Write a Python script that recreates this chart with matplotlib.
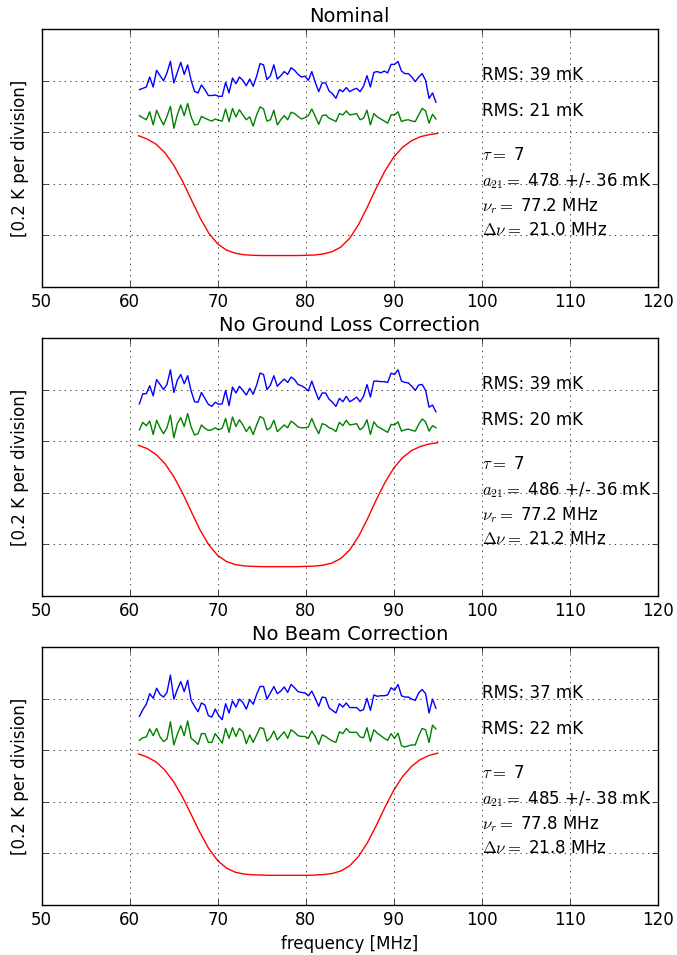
import numpy as np
import matplotlib
matplotlib.use("Agg")
import matplotlib.pyplot as plt

plt.style.use("classic")
plt.rcParams["figure.facecolor"] = "white"
plt.rcParams["savefig.facecolor"] = "white"

# ---- data ----
titles = ["Nominal", "No Ground Loss Correction", "No Beam Correction"]
rms_blue = [39, 39, 37]
rms_green = [21, 20, 22]
tau = [7, 7, 7]
amp = [478, 486, 485]
amp_err = [36, 36, 38]
nu_r = [77.2, 77.2, 77.8]
dnu = [21.0, 21.2, 21.8]

f_start, f_stop = 61.1, 94.8   # residual channel range [MHz]

blue_1 = [0.166, 0.171, 0.176, 0.215, 0.176, 0.241, 0.220, 0.200, 0.231, 0.276,
          0.192, 0.233, 0.272, 0.225, 0.262, 0.202, 0.159, 0.153, 0.184, 0.166,
          0.143, 0.143, 0.145, 0.140, 0.140, 0.194, 0.153, 0.211, 0.189, 0.215,
          0.202, 0.181, 0.207, 0.179, 0.218, 0.267, 0.262, 0.205, 0.220, 0.262,
          0.207, 0.220, 0.236, 0.225, 0.251, 0.241, 0.225, 0.215, 0.218, 0.202,
          0.236, 0.194, 0.158, 0.192, 0.192, 0.161, 0.150, 0.132, 0.166, 0.158,
          0.174, 0.158, 0.166, 0.171, 0.158, 0.179, 0.220, 0.176, 0.233, 0.236,
          0.231, 0.238, 0.231, 0.264, 0.264, 0.275, 0.238, 0.228, 0.228, 0.215,
          0.197, 0.215, 0.228, 0.202, 0.132, 0.153, 0.117]
green_1 = [0.065, 0.057, 0.049, 0.080, 0.029, 0.086, 0.055, 0.029, 0.062, 0.101,
           0.016, 0.068, 0.106, 0.065, 0.112, 0.060, 0.029, 0.031, 0.062, 0.055,
           0.049, 0.044, 0.052, 0.047, 0.044, 0.091, 0.042, 0.093, 0.060, 0.088,
           0.068, 0.049, 0.060, 0.024, 0.068, 0.099, 0.091, 0.044, 0.049, 0.086,
           0.029, 0.049, 0.065, 0.049, 0.078, 0.073, 0.062, 0.052, 0.057, 0.065,
           0.091, 0.062, 0.031, 0.065, 0.068, 0.055, 0.049, 0.042, 0.073, 0.068,
           0.083, 0.068, 0.070, 0.073, 0.049, 0.055, 0.086, 0.029, 0.073, 0.060,
           0.052, 0.044, 0.036, 0.068, 0.068, 0.080, 0.042, 0.047, 0.049, 0.044,
           0.042, 0.068, 0.093, 0.083, 0.036, 0.070, 0.052]

blue_2 = [0.146, 0.185, 0.185, 0.216, 0.177, 0.240, 0.221, 0.201, 0.221, 0.278,
          0.190, 0.237, 0.260, 0.224, 0.255, 0.196, 0.154, 0.152, 0.190, 0.167,
          0.144, 0.136, 0.152, 0.144, 0.146, 0.198, 0.139, 0.211, 0.188, 0.214,
          0.198, 0.180, 0.206, 0.183, 0.219, 0.265, 0.260, 0.201, 0.219, 0.255,
          0.214, 0.229, 0.242, 0.229, 0.250, 0.240, 0.221, 0.216, 0.208, 0.196,
          0.234, 0.196, 0.162, 0.188, 0.188, 0.164, 0.152, 0.136, 0.167, 0.154,
          0.175, 0.154, 0.162, 0.172, 0.154, 0.175, 0.221, 0.172, 0.234, 0.234,
          0.232, 0.232, 0.229, 0.265, 0.260, 0.278, 0.234, 0.229, 0.227, 0.214,
          0.198, 0.219, 0.221, 0.198, 0.133, 0.141, 0.115]
green_2 = [0.045, 0.074, 0.061, 0.079, 0.027, 0.082, 0.053, 0.030, 0.053, 0.102,
           0.014, 0.069, 0.092, 0.058, 0.108, 0.056, 0.025, 0.030, 0.064, 0.051,
           0.043, 0.045, 0.053, 0.045, 0.051, 0.089, 0.035, 0.095, 0.058, 0.084,
           0.064, 0.038, 0.058, 0.027, 0.064, 0.097, 0.089, 0.045, 0.053, 0.082,
           0.038, 0.051, 0.064, 0.053, 0.079, 0.069, 0.056, 0.053, 0.053, 0.056,
           0.089, 0.056, 0.030, 0.069, 0.064, 0.053, 0.048, 0.038, 0.074, 0.061,
           0.082, 0.064, 0.066, 0.069, 0.045, 0.056, 0.084, 0.027, 0.076, 0.058,
           0.051, 0.043, 0.035, 0.066, 0.064, 0.076, 0.040, 0.045, 0.048, 0.043,
           0.040, 0.066, 0.087, 0.076, 0.040, 0.061, 0.053]

blue_3 = [0.132, 0.158, 0.179, 0.220, 0.202, 0.241, 0.217, 0.207, 0.225, 0.292,
          0.199, 0.236, 0.267, 0.228, 0.272, 0.194, 0.171, 0.150, 0.184, 0.176,
          0.135, 0.129, 0.160, 0.135, 0.119, 0.181, 0.145, 0.192, 0.168, 0.199,
          0.186, 0.160, 0.197, 0.179, 0.217, 0.248, 0.248, 0.199, 0.223, 0.248,
          0.220, 0.230, 0.246, 0.225, 0.256, 0.243, 0.228, 0.225, 0.223, 0.212,
          0.230, 0.202, 0.171, 0.207, 0.204, 0.166, 0.155, 0.145, 0.181, 0.168,
          0.184, 0.166, 0.166, 0.166, 0.153, 0.158, 0.202, 0.155, 0.215, 0.210,
          0.212, 0.212, 0.215, 0.243, 0.233, 0.256, 0.212, 0.207, 0.207, 0.199,
          0.194, 0.223, 0.236, 0.220, 0.145, 0.199, 0.163]
green_3 = [0.039, 0.049, 0.052, 0.083, 0.057, 0.085, 0.052, 0.034, 0.044, 0.111,
           0.021, 0.062, 0.096, 0.057, 0.114, 0.047, 0.036, 0.023, 0.065, 0.065,
           0.031, 0.031, 0.065, 0.047, 0.028, 0.085, 0.047, 0.088, 0.054, 0.085,
           0.072, 0.026, 0.060, 0.031, 0.060, 0.088, 0.085, 0.036, 0.049, 0.075,
           0.041, 0.057, 0.072, 0.047, 0.080, 0.070, 0.057, 0.054, 0.054, 0.047,
           0.075, 0.054, 0.023, 0.060, 0.054, 0.044, 0.036, 0.031, 0.072, 0.065,
           0.085, 0.070, 0.070, 0.070, 0.052, 0.049, 0.088, 0.034, 0.080, 0.067,
           0.057, 0.047, 0.039, 0.065, 0.047, 0.067, 0.018, 0.013, 0.018, 0.021,
           0.021, 0.057, 0.085, 0.080, 0.031, 0.098, 0.083]

# absorption profile, sampled every 1 MHz from 61 to 95 MHz
model_freq = list(range(61, 96))
red_1 = [-0.013, -0.026, -0.046, -0.079, -0.127, -0.189, -0.261, -0.332, -0.392, -0.433,
         -0.457, -0.469, -0.475, -0.477, -0.478, -0.478, -0.478, -0.478, -0.478, -0.477,
         -0.476, -0.472, -0.463, -0.445, -0.411, -0.358, -0.290, -0.217, -0.150, -0.096,
         -0.058, -0.033, -0.017, -0.009, -0.004]
red_2 = [-0.015, -0.028, -0.051, -0.086, -0.136, -0.200, -0.273, -0.344, -0.402, -0.443,
         -0.466, -0.478, -0.483, -0.485, -0.486, -0.486, -0.486, -0.486, -0.486, -0.485,
         -0.484, -0.480, -0.472, -0.454, -0.421, -0.369, -0.302, -0.228, -0.160, -0.104,
         -0.063, -0.036, -0.020, -0.010, -0.005]
red_3 = [-0.014, -0.026, -0.045, -0.077, -0.122, -0.181, -0.250, -0.320, -0.382, -0.428,
         -0.457, -0.473, -0.480, -0.483, -0.484, -0.485, -0.485, -0.485, -0.485, -0.485,
         -0.484, -0.482, -0.478, -0.468, -0.448, -0.412, -0.359, -0.293, -0.221, -0.155,
         -0.102, -0.063, -0.036, -0.020, -0.011]

blues = [blue_1, blue_2, blue_3]
greens = [green_1, green_2, green_3]
reds = [red_1, red_2, red_3]

# ---- figure ----
fig = plt.figure(figsize=(6.77, 9.55), dpi=100)
bottoms = [0.6995, 0.3759, 0.0524]

for i in range(3):
    ax = fig.add_axes([0.0616, bottoms[i], 0.9099, 0.2698])
    freq = np.linspace(f_start, f_stop, len(blues[i]))
    ax.plot(freq, blues[i], color="b", lw=1.0)
    ax.plot(freq, greens[i], color="g", lw=1.0)
    ax.plot(model_freq, reds[i], color="r", lw=1.0)

    ax.set_xlim(50, 120)
    ax.set_ylim(-0.6, 0.4)
    ax.set_xticks(range(50, 121, 10))
    ax.set_yticks([-0.4, -0.2, 0.0, 0.2])
    ax.set_yticklabels([])
    ax.grid(True)
    ax.set_title(titles[i], fontsize=14)
    ax.set_ylabel("[0.2 K per division]", fontsize=12)

    tx = 100
    ax.text(tx, 0.224, "RMS: %d mK" % rms_blue[i], va="center", fontsize=12)
    ax.text(tx, 0.084, "RMS: %d mK" % rms_green[i], va="center", fontsize=12)
    ax.text(tx, -0.087, r"$\tau=$ %d" % tau[i], va="center", fontsize=12)
    ax.text(tx, -0.188, r"$a_{21}=$ %d +/- %d mK" % (amp[i], amp_err[i]),
            va="center", fontsize=12)
    ax.text(tx, -0.285, r"$\nu_r=$ %.1f MHz" % nu_r[i], va="center", fontsize=12)
    ax.text(tx, -0.378, r"$\Delta\nu=$ %.1f MHz" % dnu[i], va="center", fontsize=12)

    if i == 2:
        ax.set_xlabel("frequency [MHz]", fontsize=12)

fig.savefig("out.png", dpi=100)
